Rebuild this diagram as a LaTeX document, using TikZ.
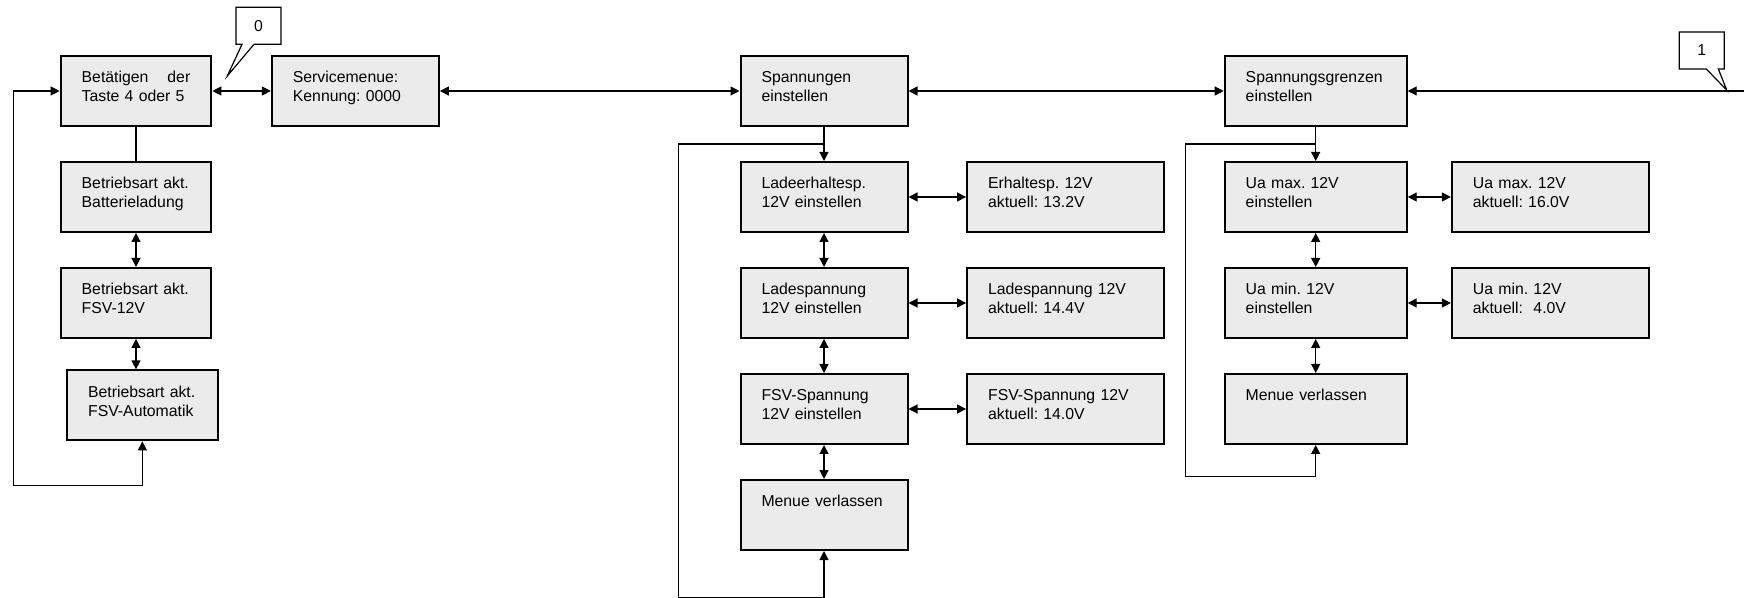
\documentclass[tikz,border=0pt]{standalone}
\usepackage{fontspec}
\setmainfont{Liberation Sans}
\usepackage{tikz}
\usetikzlibrary{positioning, calc, arrows.meta, shapes.callouts}
\newcommand{\menufont}{\fontsize{7.9pt}{9.65pt}\selectfont\frenchspacing}
\tikzstyle{menu} = [rectangle, draw=black, line width=1pt, fill=black!8, minimum height=35pt, inner xsep=10.5pt, text height=6pt, text depth=14.3pt, align=left, font=\menufont]
\tikzstyle{menuS} = [menu, text width=54.3pt]
\tikzstyle{menuM} = [menu, text width=62.5pt]
\tikzstyle{menuL} = [menu, text width=70pt]
\tikzstyle{menuX} = [menu, text width=77.5pt]
\tikzstyle{wire} = [line width=0.6pt, >={Triangle[length=4.5pt, width=4.5pt]}]
\tikzstyle{arrow} = [wire, <->]
\tikzstyle{marker} = [rectangle callout, draw=black, line width=0.6pt, fill=white, minimum width=22.5pt, minimum height=18.5pt, callout pointer width=6pt, font=\menufont]

\begin{document}
\begin{tikzpicture}[node distance=17pt]
\useasboundingbox (-68pt,45.5pt) rectangle (804pt,-253.5pt);

% Betriebsarten
\node (bet) [menuS] {Betätigen\hfill der\\Taste 4 oder 5};
\node (bl) [menuS, below=of bet] {Betriebsart akt.\\Batterieladung};
\node (fsv12) [menuS, below=of bl] {Betriebsart akt.\\FSV-12V};
\node (fsvauto) [menuS, below=15.2pt of fsv12, xshift=3.2pt] {Betriebsart akt.\\FSV-Automatik};

% Servicemenue
\node (serv) [menuM, right=29.3pt of bet] {Servicemenue:\\Kennung: 0000};
\node (spann) [menuM, right=149.8pt of serv] {Spannungen\\einstellen};
\node (grenz) [menuL, right=157.6pt of spann] {Spannungsgrenzen\\einstellen};

% Spannungen
\node (ladeerh) [menuM, below=of spann] {Ladeerhaltesp.\\12V einstellen};
\node (ladesp) [menuM, below=of ladeerh] {Ladespannung\\12V einstellen};
\node (fsvsp) [menuM, below=of ladesp] {FSV-Spannung\\12V einstellen};
\node (menueA) [menuM, below=of fsvsp] {Menue verlassen};
\node (erhakt) [menuX, right=28.8pt of ladeerh] {Erhaltesp. 12V\\aktuell: 13.2V};
\node (ladespakt) [menuX, right=28.8pt of ladesp] {Ladespannung 12V\\aktuell: 14.4V};
\node (fsvspakt) [menuX, right=28.8pt of fsvsp] {FSV-Spannung 12V\\aktuell: 14.0V};

% Spannungsgrenzen
\node (uamax) [menuL, below=of grenz] {Ua max. 12V\\einstellen};
\node (uamin) [menuL, below=of uamax] {Ua min. 12V\\einstellen};
\node (menueB) [menuL, below=of uamin] {Menue verlassen};
\node (uamaxakt) [menuX, right=21.6pt of uamax] {Ua max. 12V\\aktuell: 16.0V};
\node (uaminakt) [menuX, right=21.6pt of uamin] {Ua min. 12V\\aktuell:~~4.0V};

\coordinate (joinA) at ($(spann.south)!0.5!(ladeerh.north)$);
\coordinate (loopA) at ($(joinA)+(-72.8pt,0)$);
\coordinate (joinB) at ($(grenz.south)!0.5!(uamax.north)$);
\coordinate (loopB) at ($(joinB)+(-65pt,0)$);
\coordinate (rein) at (804pt,0);

\draw [wire] (bet.south) -- (bl.north);
\draw [arrow] (bl.south) -- (fsv12.north);
\draw [arrow] (fsv12.south) -- (fsv12.south |- fsvauto.north);
\draw [arrow] (fsvauto.south) -- ++(0,-21.85pt) -| ($(bet.west)+(-23.2pt,0)$) -- (bet.west);

\draw [arrow] (bet) -- (serv);
\draw [arrow] (serv) -- (spann);
\draw [arrow] (spann) -- (grenz);
\draw [wire, ->] (rein) -- (grenz.east);

\draw [wire, ->] (spann.south) -- (ladeerh.north);
\draw [arrow] (ladeerh) -- (ladesp);
\draw [arrow] (ladesp) -- (fsvsp);
\draw [arrow] (fsvsp) -- (menueA);
\draw [arrow] (ladeerh) -- (erhakt);
\draw [arrow] (ladesp) -- (ladespakt);
\draw [arrow] (fsvsp) -- (fsvspakt);
\draw [wire, <-] (menueA.south) -- ++(0,-23.2pt) -| (loopA) -- (joinA);

\draw [wire, ->] (grenz.south) -- (uamax.north);
\draw [arrow] (uamax) -- (uamin);
\draw [arrow] (uamin) -- (menueB);
\draw [arrow] (uamax) -- (uamaxakt);
\draw [arrow] (uamin) -- (uaminakt);
\draw [wire, <-] (menueB.south) -- ++(0,-15.85pt) -| (loopB) -- (joinB);

% Marken
\coordinate (tipA) at (45.65pt,7.5pt);
\node (markA) [marker, callout absolute pointer={(tipA)}] at (61.25pt,32.6pt) {0};
\coordinate (tipB) at (795.4pt,0.4pt);
\node (markB) [marker, callout absolute pointer={(tipB)}] at (782.9pt,20.25pt) {1};

\end{tikzpicture}
\end{document}
